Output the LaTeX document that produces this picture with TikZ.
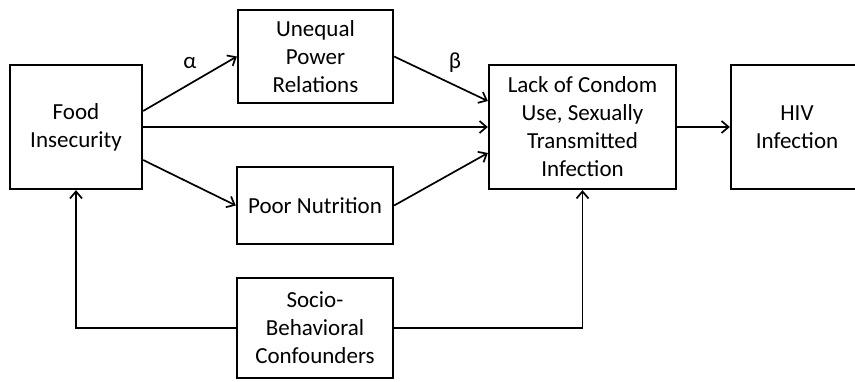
\documentclass[tikz,border=0pt]{standalone}
\usepackage{fontspec}
\setmainfont{Carlito}
\usetikzlibrary{arrows.meta,calc}
\begin{document}
\begin{tikzpicture}[x=1pt,y=-1pt,
  box/.style={draw,line width=2.3pt,align=center,inner sep=0pt,
    font=\fontsize{23}{28}\selectfont},
  conn/.style={line width=1.7pt,-{Straight Barb[length=7pt,width=12pt,line width=1.7pt]}},
  lbl/.style={font=\fontsize{23}{28}\selectfont,inner sep=0pt}]
\useasboundingbox (0,0) rectangle (855,381);
\node[box,minimum width=132pt,minimum height=124pt] (food) at (76,127) {Food\\Insecurity};
\node[box,minimum width=155pt,minimum height=93pt] (power) at (315.5,56.5) {Unequal\\Power\\Relations};
\node[box,minimum width=156pt,minimum height=77pt] (poor) at (315,205.5) {Poor Nutrition};
\node[box,minimum width=187pt,minimum height=124pt] (lack) at (582.5,127) {Lack of Condom\\Use, Sexually\\Transmitted\\Infection};
\node[box,minimum width=132pt,minimum height=124pt] (hiv) at (797,127) {HIV\\Infection};
\node[box,minimum width=156pt,minimum height=100pt] (socio) at (315,328) {Socio-\\Behavioral\\Confounders};
\draw[conn] ($(food.east)+(0,-16)$) -- (power.west);
\draw[conn] (food.east) -- (lack.west);
\draw[conn] ($(food.east)+(0,33)$) -- (poor.west);
\draw[conn] (power.east) -- ($(lack.west)+(0,-26)$);
\draw[conn] (poor.east) -- ($(lack.west)+(0,26)$);
\draw[conn] (lack.east) -- (hiv.west);
\draw[conn] (socio.west) -| (food.south);
\draw[conn] (socio.east) -| (lack.south);
\node[lbl] (alpha) at (190,63) {α};
\node[lbl] (beta) at (455,63) {β};
\end{tikzpicture}
\end{document}
